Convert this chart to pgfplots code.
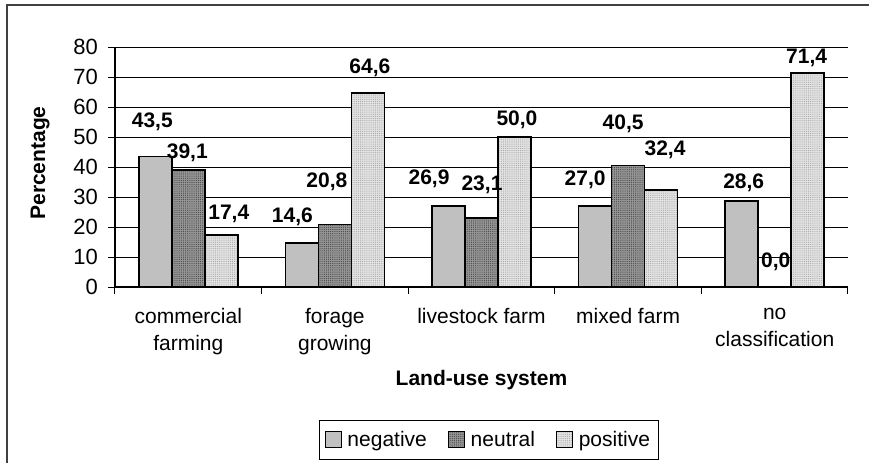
\documentclass[border=0pt]{standalone}
\usepackage{pgfplots}
\pgfplotsset{compat=1.18}
\usepackage{pgfplotstable}
\usepackage{fontspec}
\setmainfont{Liberation Sans}
\usetikzlibrary{patterns.meta}

\definecolor{negfill}{RGB}{192,192,192}
\definecolor{neufill}{RGB}{150,150,150}
\definecolor{neudot}{RGB}{70,70,70}
\definecolor{posfill}{RGB}{226,226,226}
\definecolor{posdot}{RGB}{160,160,160}
\definecolor{framegray}{RGB}{64,64,64}

\newcommand\ft{\fontsize{15.75pt}{20.25pt}\selectfont}
\newcommand\fttick{\fontsize{16.5pt}{20pt}\selectfont}

% x = category, y = percentage, dx/dy = label offset in px
\pgfplotstableread{
x y dx dy
0 43.5 -3 34.5
1 14.6 -9.5 26
2 26.9 -19.5 28
3 27.0 -10 26
4 28.6 2 18
}\tabneg
\pgfplotstableread{
x y dx dy
0 39.1 -1 17
1 20.8 -8 43
2 23.1 0.5 33
3 40.5 -5 42
4 0.0 1 25
}\tabneu
\pgfplotstableread{
x y dx dy
0 17.4 7.5 21
1 64.6 2 25
2 50.0 2.5 17
3 32.4 4 40
4 71.4 -1 15
}\tabpos

\pgfplotsset{
	mybar/.style={
		ybar,
		bar width=0.225,
		bar shift=0,
		draw=black,
		line width=1.3pt,
		legend image code/.code={
			\draw[##1, line width=0.9pt] (0pt,-6pt) rectangle (12pt,6pt);
		},
	},
	labels/.style={
		nodes near coords={\pgfmathprintnumber[fixed, fixed zerofill, precision=1, use comma]{\pgfplotspointmeta}},
		visualization depends on={\thisrow{dx} \as \dx},
		visualization depends on={\thisrow{dy} \as \dy},
		every node near coord/.append style={
			font=\ft\bfseries, text=black, anchor=center,
			xshift={\dx*0.75pt}, yshift={\dy*0.75pt},
		},
	},
}

\begin{document}
\begin{tikzpicture}
\useasboundingbox (0pt,0pt) rectangle (651.75pt,-346.5pt);
\draw[framegray, line width=1.5pt] (5.25pt,-360pt) -- (5.25pt,-3.75pt) -- (660pt,-3.75pt);

\begin{axis}[
	at={(86.25pt,-215.25pt)}, anchor=south west,
	scale only axis,
	width=549.75pt, height=180pt,
	xmin=-0.5, xmax=4.5,
	ymin=0, ymax=80,
	axis x line*=bottom,
	axis y line*=left,
	axis line style={-, black, line width=0.9pt},
	ytick={0,10,...,80},
	xtick={-0.5,0.5,1.5,2.5,3.5,4.5},
	x tick label as interval,
	xticklabels={commercial\\farming, forage\\growing, livestock farm, mixed farm, no\\classification},
	tick align=outside,
	major tick length=5.25pt,
	tick style={black, line width=0.75pt},
	ymajorgrids,
	grid style={black, line width=0.75pt},
	/pgf/number format/assume math mode=true,
	yticklabel style={font=\fttick, xshift=-4pt},
	xticklabel style={font=\ft, align=center, yshift=-7pt},
	xlabel={Land-use system},
	xlabel style={at={(axis description cs:0.5,-0.3875)}, anchor=center, font=\ft\bfseries},
	ylabel={Percentage},
	ylabel style={at={(axis description cs:-0.1023,0.517)}, anchor=center, font=\ft\bfseries},
	legend columns=-1,
	legend style={
		at={(axis description cs:0.51,-0.554)}, anchor=north,
		draw=black, line width=0.6pt, font=\ft,
		inner xsep=4pt, inner ysep=6pt,
		/tikz/every odd column/.append style={column sep=2pt},
		/tikz/every even column/.append style={column sep=14pt},
	},
]

\addplot[mybar, fill=negfill, labels]
	table[x expr=\thisrow{x}-0.225, y=y] {\tabneg};
\addlegendentry{negative}
\addplot[mybar, fill=neufill,
	postaction={pattern={Dots[distance=1.6pt, radius=0.45pt]}, pattern color=neudot}, labels]
	table[x=x, y=y] {\tabneu};
\addlegendentry{neutral}
\addplot[mybar, fill=posfill,
	postaction={pattern={Dots[distance=1.6pt, radius=0.4pt]}, pattern color=posdot}, labels]
	table[x expr=\thisrow{x}+0.225, y=y] {\tabpos};
\addlegendentry{positive}

\end{axis}
\end{tikzpicture}
\end{document}
